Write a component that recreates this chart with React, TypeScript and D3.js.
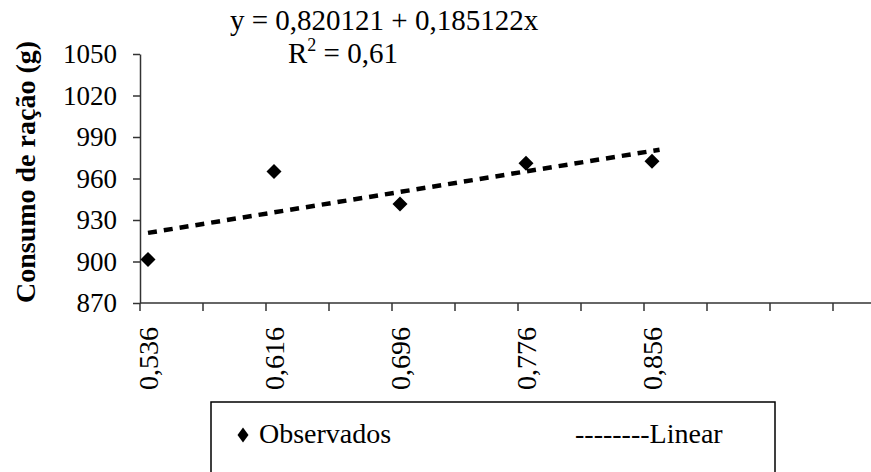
import React, { useRef, useEffect } from 'react'
import * as d3 from 'd3'

const categories = ['0,536', '0,616', '0,696', '0,776', '0,856']
const observed = [901.5, 965, 941.5, 971, 972.5]
const yTicks = [870, 900, 930, 960, 990, 1020, 1050]
const equationText = 'y = 0,820121 + 0,185122x'
const r2Text = '0,61'
const legendObserved = 'Observados'
const legendLinear = '--------Linear'

const FONT = "'Liberation Serif', 'Times New Roman', Times, 'DejaVu Serif', serif"

const App = () => {
    const svgRef = useRef<SVGSVGElement>(null)

    useEffect(() => {
        const svg = d3.select(svgRef.current)
        const width = 871
        svg.selectAll('*').remove()

        // category index -> pixel, points sit slightly right of the axis origin
        const xScale = d3.scaleLinear().domain([0, categories.length - 1]).range([148, 652])
        const yScale = d3.scaleLinear().domain([870, 1050]).range([303, 54])
        const axisLeftX = 140
        const axisY = yScale(870)

        //y axis
        const yAxis = svg
            .append('g')
            .attr('transform', `translate(${axisLeftX},0)`)
            .call(d3.axisLeft(yScale).tickValues(yTicks).tickSize(7).tickSizeOuter(0).tickPadding(16).tickFormat(d3.format('d')))
        yAxis.attr('font-family', null).attr('font-size', null)
        yAxis.selectAll('path, line').attr('stroke', '#333').attr('stroke-width', 1.5)
        yAxis.selectAll('text').attr('fill', '#000').style('font-family', FONT).style('font-size', '27px')

        //x axis: line + ticks every half category
        const step = xScale(1) - xScale(0)
        svg.append('line')
            .attr('x1', axisLeftX)
            .attr('x2', width)
            .attr('y1', axisY)
            .attr('y2', axisY)
            .attr('stroke', '#333')
            .attr('stroke-width', 1.5)
        svg.selectAll('.xtick')
            .data(d3.range(axisLeftX, width, step / 2))
            .enter()
            .append('line')
            .attr('class', 'xtick')
            .attr('x1', (d) => d)
            .attr('x2', (d) => d)
            .attr('y1', axisY)
            .attr('y2', axisY + 8)
            .attr('stroke', '#333')
            .attr('stroke-width', 1.5)

        //x labels, rotated
        svg.selectAll('.xlabel')
            .data(categories)
            .enter()
            .append('text')
            .attr('class', 'xlabel')
            .attr('transform', (d, i) => `translate(${xScale(i)},390) rotate(-90)`)
            .attr('dy', '0.35em')
            .attr('text-anchor', 'start')
            .style('font-family', FONT)
            .style('font-size', '28px')
            .text((d) => d)

        //y axis title
        svg.append('text')
            .attr('transform', `translate(25,172) rotate(-90)`)
            .attr('dy', '0.35em')
            .attr('text-anchor', 'middle')
            .style('font-family', FONT)
            .style('font-weight', 'bold')
            .style('font-size', '28px')
            .text('Consumo de ração (g)')

        //linear trend from the observed values
        const xs = observed.map((d, i) => i)
        const mx = d3.mean(xs) as number
        const my = d3.mean(observed) as number
        const slope =
            d3.sum(xs, (x, i) => (x - mx) * (observed[i] - my)) / d3.sum(xs, (x) => (x - mx) ** 2)
        const intercept = my - slope * mx
        const trendEnds = [0, categories.length - 1 + 0.06]
        const line = d3
            .line<number>()
            .x((d) => xScale(d))
            .y((d) => yScale(intercept + slope * d))

        //diamonds
        const diamond = (cx: number, cy: number, w: number, h: number) =>
            `M${cx},${cy - h}L${cx + w},${cy}L${cx},${cy + h}L${cx - w},${cy}Z`
        svg.selectAll('.pt')
            .data(observed)
            .enter()
            .append('path')
            .attr('class', 'pt')
            .attr('d', (d, i) => diamond(xScale(i), yScale(d), 7.5, 7.5))
            .attr('fill', '#000')

        svg.append('path')
            .datum(trendEnds)
            .attr('fill', 'none')
            .attr('stroke', '#000')
            .attr('stroke-width', 4.5)
            .attr('stroke-dasharray', '9 7')
            .attr('d', line)

        //equation
        svg.append('text')
            .attr('x', 230)
            .attr('y', 30)
            .style('font-family', FONT)
            .style('font-size', '29px')
            .text(equationText)
        const r2 = svg
            .append('text')
            .attr('x', 288)
            .attr('y', 63)
            .style('font-family', FONT)
            .style('font-size', '29px')
        r2.append('tspan').text('R')
        r2.append('tspan').style('font-size', '18px').attr('dy', -12).text('2')
        r2.append('tspan').attr('dy', 12).text(` = ${r2Text}`)

        //legend
        svg.append('rect')
            .attr('x', 211)
            .attr('y', 402)
            .attr('width', 564)
            .attr('height', 120)
            .attr('fill', '#fff')
            .attr('stroke', '#000')
            .attr('stroke-width', 1.5)
        svg.append('path').attr('d', diamond(243, 435, 5.5, 7.5)).attr('fill', '#000')
        svg.append('text')
            .attr('x', 259)
            .attr('y', 443)
            .style('font-family', FONT)
            .style('font-size', '28px')
            .text(legendObserved)
        svg.append('text')
            .attr('x', 575)
            .attr('y', 443)
            .style('font-family', FONT)
            .style('font-size', '28px')
            .text(legendLinear)
    }, [])

    return (
        <svg
            ref={svgRef}
            width={871}
            height={472}
            style={{ position: 'absolute', left: 0, top: 0, background: '#fff' }}
        />
    )
}

export default App
